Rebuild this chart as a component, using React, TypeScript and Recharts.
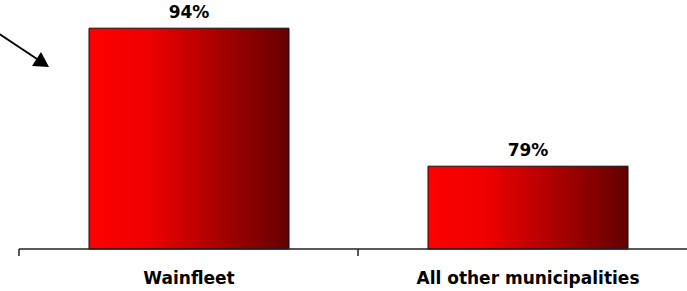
import React from 'react';
import { BarChart, Bar, XAxis, YAxis, LabelList } from 'recharts';

const categories = ['Wainfleet', 'All other municipalities'];
const values = [94, 79];
const yDomain: [number, number] = [70, 95];

const data = categories.map((name, i) => ({ name, value: values[i], pos: i + 0.5 }));
const boundaryTicks = categories.map((_, i) => i).concat([categories.length]);

const FONT = 'Verdana, "DejaVu Sans", sans-serif';
const textStyle = { fill: '#000', fontSize: 17, fontWeight: 'bold', fontFamily: FONT };

const CategoryLabel = (props: any) => {
  const { x, y, width, height, value } = props;
  return (
    <text
      x={Number(x) + Number(width) / 2}
      y={Number(y) + Number(height) + 35}
      textAnchor="middle"
      style={textStyle}
    >
      {value}
    </text>
  );
};

export default function App() {
  return (
    <div style={{ position: 'absolute', left: 0, top: 0, width: 687, height: 291, overflow: 'hidden', background: '#fff' }}>
      <BarChart
        width={700}
        height={291}
        data={data}
        margin={{ top: 19, right: 3, bottom: 0, left: 19 }}
      >
        <defs>
          <linearGradient id="redGrad" x1="0" y1="0" x2="1" y2="0">
            <stop offset="0%" stopColor="#ff0000" />
            <stop offset="30%" stopColor="#ee0000" />
            <stop offset="100%" stopColor="#640000" />
          </linearGradient>
        </defs>
        <XAxis
          dataKey="pos"
          type="number"
          domain={[0, categories.length]}
          ticks={boundaryTicks}
          height={42}
          axisLine={{ stroke: '#222', strokeWidth: 1.5 }}
          tickLine={{ stroke: '#222', strokeWidth: 1.5 }}
          tickSize={7}
          tickFormatter={() => ''}
        />
        <YAxis hide domain={yDomain} />
        <Bar
          dataKey="value"
          barSize={200}
          fill="url(#redGrad)"
          stroke="#111"
          strokeWidth={1}
          isAnimationActive={false}
        >
          <LabelList
            dataKey="value"
            position="top"
            offset={10}
            formatter={(v: any) => `${v}%`}
            style={textStyle}
          />
          <LabelList dataKey="name" content={CategoryLabel} />
        </Bar>
      </BarChart>
      <svg width={687} height={291} style={{ position: 'absolute', left: 0, top: 0, pointerEvents: 'none' }}>
        <line x1={-2} y1={33} x2={40} y2={61} stroke="#000" strokeWidth={2} />
        <polygon points="49,67 32,66 41,52" fill="#000" />
      </svg>
    </div>
  );
}
